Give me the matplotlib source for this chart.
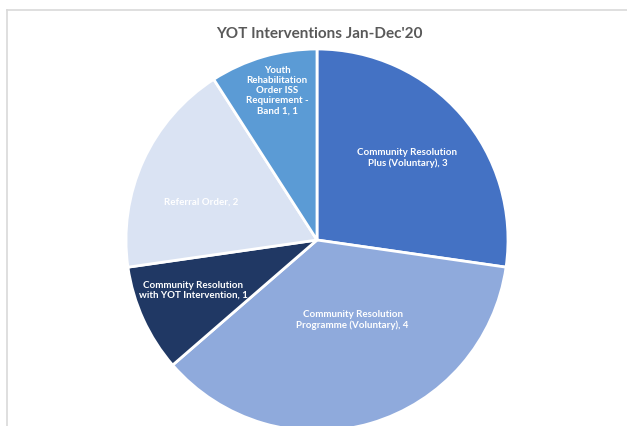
import numpy as np
import matplotlib.pyplot as plt

categories = ["Community Resolution\nPlus (Voluntary)",
              "Community Resolution\nProgramme (Voluntary)",
              "Community Resolution\nwith YOT Intervention",
              "Referral Order",
              "Youth\nRehabilitation\nOrder ISS\nRequirement -\nBand 1"]
values = [3, 4, 1, 2, 1]
colors = ["#4472C4", "#8FAADC", "#203864", "#DAE3F3", "#5B9BD5"]
# label placement: angle offset from slice middle (deg), distance from centre
label_shift = [1.4, 7.6, -2.5, 6.5, -1.4]
label_dist = [0.64, 0.46, 0.70, 0.64, 0.81]

W, H = 627, 426
fig = plt.figure(figsize=(W / 100, H / 100), dpi=100)
fig.patch.set_facecolor("white")

# light frame (top and left edge visible in the screenshot)
fig.add_artist(plt.Line2D([7 / W, 1], [1 - 9.5 / H, 1 - 9.5 / H], color="#D9D9D9", lw=1.2))
fig.add_artist(plt.Line2D([7 / W, 7 / W], [0, 1 - 9.5 / H], color="#D9D9D9", lw=1.2))

cx, cy, r = 317, 240, 191
ax = fig.add_axes([(cx - r) / W, 1 - (cy + r) / H, 2 * r / W, 2 * r / H])
wedges, _ = ax.pie(values, colors=colors, startangle=90, counterclock=False,
                   wedgeprops=dict(edgecolor="white", linewidth=2))
ax.set_xlim(-1, 1)
ax.set_ylim(-1, 1)
ax.set_aspect("equal")
ax.axis("off")

for w, name, v, s, d in zip(wedges, categories, values, label_shift, label_dist):
    mid = np.deg2rad((w.theta1 + w.theta2) / 2 + s)
    ax.text(d * np.cos(mid), d * np.sin(mid), f"{name}, {v}",
            ha="center", va="center", color="white", fontsize=7,
            fontweight="bold", family="Lato", linespacing=1.15)

fig.text(319 / W, 1 - 33.5 / H, "YOT Interventions Jan-Dec'20", ha="center", va="center",
         fontsize=11, fontweight="bold", color="#595959", family="Lato")

fig.savefig("out.png", dpi=100)
